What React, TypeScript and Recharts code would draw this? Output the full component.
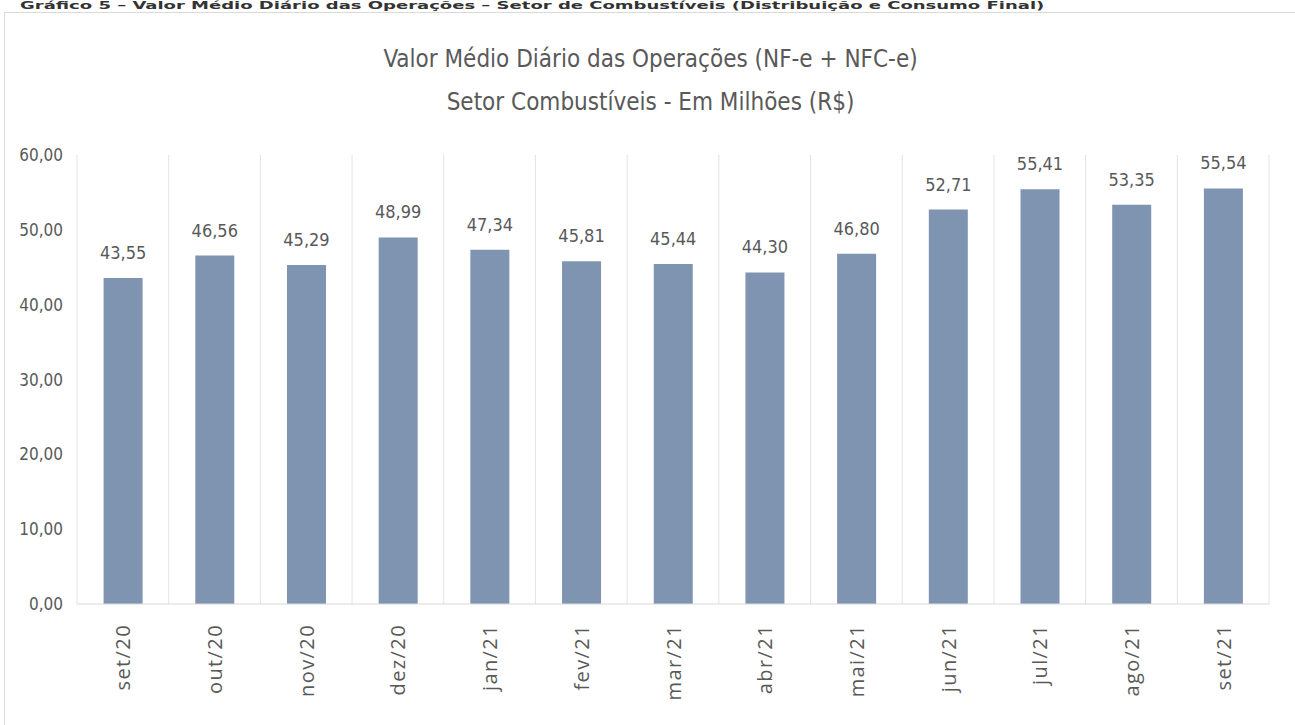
import React from 'react';
import { BarChart, Bar, XAxis, YAxis, CartesianGrid, LabelList } from 'recharts';

const MONTHS = ['set/20', 'out/20', 'nov/20', 'dez/20', 'jan/21', 'fev/21', 'mar/21', 'abr/21', 'mai/21', 'jun/21', 'jul/21', 'ago/21', 'set/21'];
const VALUES = [43.55, 46.56, 45.29, 48.99, 47.34, 45.81, 45.44, 44.3, 46.8, 52.71, 55.41, 53.35, 55.54];
const Y_TICKS = [0, 10, 20, 30, 40, 50, 60];

const BAR_COLOR = '#7F94B0';
const TEXT = '#595959';
const NARROW = '"Liberation Sans Narrow", "DejaVu Sans Condensed", "Open Sans", sans-serif';

const data = MONTHS.map((m, i) => ({ month: m, value: VALUES[i] }));

const fmt = (v: number) => v.toFixed(2).replace('.', ',');

const MonthTick = (props: any) => {
  const { x, y, payload } = props;
  return (
    <text
      x={x}
      y={y + 12}
      transform={`rotate(-90, ${x}, ${y + 12})`}
      textAnchor="end"
      dominantBaseline="central"
      fill={TEXT}
      fontSize={20}
      letterSpacing={1.4}
      fontFamily='"Open Sans", sans-serif'
    >
      {payload.value}
    </text>
  );
};

export default function App() {
  return (
    <div style={{ position: 'absolute', left: 0, top: 0, width: 1295, height: 725, background: '#fff', overflow: 'hidden' }}>
      {/* page header above the chart box (squeezed, the reference only shows its lower half) */}
      <div
        style={{
          position: 'absolute', left: 20, top: 0, fontSize: 20, fontWeight: 'bold', lineHeight: '20px',
          fontFamily: NARROW, fontStretch: 'condensed', color: '#333', whiteSpace: 'nowrap',
          transform: 'scaleY(0.5)', transformOrigin: 'top left',
        }}
      >
        Gráfico 5 – Valor Médio Diário das Operações – Setor de Combustíveis (Distribuição e Consumo Final)
      </div>
      <div
        style={{
          position: 'absolute', left: 4, top: 12, width: 1291, height: 713,
          borderLeft: '1px solid #D9D9D9', borderTop: '1px solid #D9D9D9', boxSizing: 'border-box',
        }}
      >
        <div
          style={{
            position: 'absolute', left: 0, width: 1291, top: 25, textAlign: 'center',
            fontFamily: NARROW, fontStretch: 'condensed', fontSize: 24, color: TEXT, lineHeight: '43px',
          }}
        >
          <div>Valor Médio Diário das Operações (NF-e + NFC-e)</div>
          <div>Setor Combustíveis - Em Milhões (R$)</div>
        </div>
        <BarChart
          width={1290}
          height={712}
          data={data}
          margin={{ top: 142, right: 26, left: 0, bottom: 0 }}
          barCategoryGap="29%"
        >
          <CartesianGrid
            horizontal={false}
            stroke="#E3E3E3"
            verticalCoordinatesGenerator={({ offset }: any) =>
              MONTHS.map((_, i) => offset.left + (i * offset.width) / MONTHS.length).concat(offset.left + offset.width)
            }
          />
          <XAxis
            dataKey="month"
            tick={<MonthTick />}
            tickLine={false}
            axisLine={{ stroke: '#D9D9D9' }}
            interval={0}
            height={121}
          />
          <YAxis
            width={72}
            domain={[0, 60]}
            ticks={Y_TICKS}
            tickFormatter={fmt}
            tickLine={false}
            axisLine={false}
            tick={{ fill: TEXT, fontSize: 17, fontFamily: NARROW, style: { fontStretch: 'condensed' } }}
            tickMargin={8}
          />
          <Bar dataKey="value" fill={BAR_COLOR} isAnimationActive={false}>
            <LabelList
              dataKey="value"
              position="top"
              offset={19}
              formatter={(v: any) => fmt(Number(v))}
              fill={TEXT}
              fontSize={18}
              fontFamily={NARROW}
              style={{ fontStretch: 'condensed' }}
            />
          </Bar>
        </BarChart>
      </div>
    </div>
  );
}
